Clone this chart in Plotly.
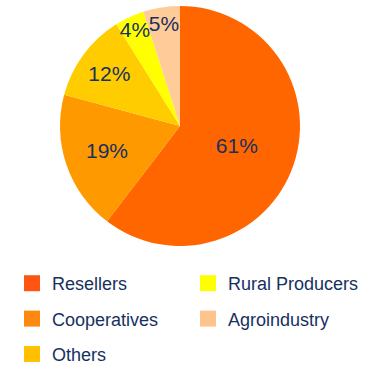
import plotly.graph_objects as go

labels = ["Resellers", "Cooperatives", "Others", "Rural Producers", "Agroindustry"]
values = [61, 19, 12, 4, 5]
pie_colors = ["#FF6600", "#FF9900", "#FFCC00", "#FFFF00", "#FFCC99"]
legend_colors = ["#FF5511", "#FF8811", "#FFC000", "#FFFF00", "#FFC48C"]
col1 = ["Resellers", "Cooperatives", "Others"]
col2 = ["Rural Producers", "Agroindustry"]

navy = "#17305F"
W, H = 366, 368

fig = go.Figure()
fig.add_trace(go.Pie(
    labels=labels, values=values, sort=False, direction="clockwise", rotation=0,
    marker=dict(colors=pie_colors, line=dict(width=0)),
    texttemplate="%{value}%", textposition="inside", insidetextorientation="horizontal",
    textfont=dict(color=navy, size=21, family="Liberation Sans, Arial"),
    showlegend=False, hoverinfo="label+percent",
    domain=dict(x=[60 / W, 300 / W], y=[1 - 246 / H, 1 - 6 / H]),
))

for lab in labels:
    i = labels.index(lab)
    fig.add_trace(go.Scatter(
        x=[None], y=[None], mode="markers", name=lab,
        marker=dict(symbol="square", size=16, color=legend_colors[i]),
        legend="legend" if lab in col1 else "legend2",
        legendgroup=lab,
    ))

leg_common = dict(
    font=dict(color=navy, size=18, family="Liberation Sans, Arial"),
    orientation="v", tracegroupgap=9, bgcolor="rgba(0,0,0,0)",
    xanchor="left", yanchor="top", itemsizing="trace",
)
fig.update_layout(
    width=W, height=H, margin=dict(l=0, r=0, t=0, b=0, autoexpand=False),
    paper_bgcolor="white", plot_bgcolor="white",
    xaxis=dict(visible=False), yaxis=dict(visible=False),
    uniformtext=dict(minsize=21, mode="show"),
    legend=dict(x=12 / W, y=1 - 265 / H, **leg_common),
    legend2=dict(x=188 / W, y=1 - 265 / H, **leg_common),
)
fig.write_html("out.html")
